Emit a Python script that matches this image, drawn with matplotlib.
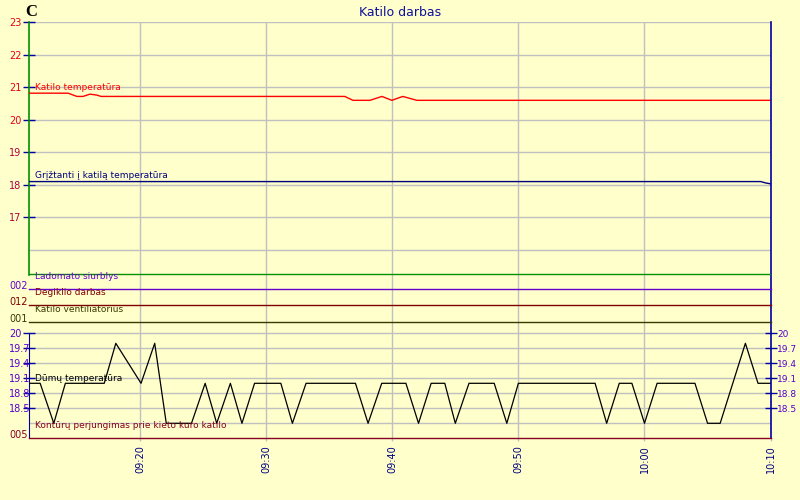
"""Katilo darbas: katilo ir dūmų temperatūros bei skaitmeniniai kanalai (800x500)."""
import matplotlib
matplotlib.use("Agg")
import matplotlib.pyplot as plt

plt.rcParams["font.family"] = ["DejaVu Sans"]

# ---- duomenys ----
KATILO_T = ["09:11:12", "09:14:18", "09:15:00", "09:15:29", "09:16:02", "09:16:35",
            "09:16:55", "09:36:14", "09:36:53", "09:38:14", "09:39:11", "09:39:58",
            "09:40:50", "09:41:57", "10:10:00"]
KATILO_V = [20.82, 20.82, 20.72, 20.72, 20.79, 20.76, 20.72, 20.72, 20.6, 20.6,
            20.72, 20.6, 20.72, 20.6, 20.6]

GRIZT_T = ["09:11:12", "10:09:13", "10:09:35", "10:10:00"]
GRIZT_V = [18.1, 18.1, 18.06, 18.03]

DUMU_T = ["09:11:12", "09:12:05", "09:13:10", "09:14:05", "09:17:10", "09:18:05",
          "09:20:05", "09:21:10", "09:22:05", "09:24:05", "09:25:10", "09:26:05",
          "09:27:10", "09:28:05", "09:29:05", "09:31:10", "09:32:05", "09:33:10",
          "09:37:05", "09:38:05", "09:39:10", "09:41:05", "09:42:05", "09:43:05",
          "09:44:10", "09:45:00", "09:46:05", "09:48:05", "09:49:05", "09:50:00",
          "09:56:05", "09:57:00", "09:58:00", "09:59:00", "10:00:00", "10:01:00",
          "10:04:00", "10:05:00", "10:06:00", "10:08:00", "10:09:00", "10:10:00"]
DUMU_V = [19.0, 19.0, 18.2, 19.0, 19.0, 19.8, 19.0, 19.8, 18.2, 18.2, 19.0, 18.2,
          19.0, 18.2, 19.0, 19.0, 18.2, 19.0, 19.0, 18.2, 19.0, 19.0, 18.2, 19.0,
          19.0, 18.2, 19.0, 19.0, 18.2, 19.0, 19.0, 18.2, 19.0, 19.0, 18.2, 19.0,
          19.0, 18.2, 18.2, 19.8, 19.0, 19.0]

# skaitmeniniai kanalai (visą laiką išjungti)
DIG_NAMES = ["Ladomato siurblys", "Degiklio darbas", "Katilo ventiliatorius",
             "Kontūrų perjungimas prie kieto kuro katilo"]
DIG_CODES = ["002", "012", "001", "005"]
DIG_T = ["09:11:12", "10:10:00"]
DIG_STATES = [[0, 0], [0, 0], [0, 0], [0, 0]]

TIME_TICKS = ["09:20", "09:30", "09:40", "09:50", "10:00", "10:10"]
TOP_TICKS = [17, 18, 19, 20, 21, 22, 23]
DUMU_TICKS = [18.5, 18.8, 19.1, 19.4, 19.7, 20]
DUMU_LABELS = ["18.5", "18.8", "19.1", "19.4", "19.7", "20"]

# ---- stilius / išdėstymas ----
BG = "#FFFFCC"
GRID = "#C0C0C0"
NAVY = "#000080"
TICK_C = "#0000A0"
GREEN = "#009000"
PURPLE = "#6600CC"
DUMU_LBL = "#5500CC"
DIG_COLORS = [PURPLE, "#800000", "#3A3A00", "#880022"]
DIG_LEVELS = [9, 8, 7, 0]
DIG_ON = 0.5
RECT = [29 / 800, 62 / 500, 742 / 800, 416 / 500]
DUMU_LIM = (17.906, 26.226)


def mins(t):
    parts = [int(p) for p in t.split(":")]
    while len(parts) < 3:
        parts.append(0)
    h, m, s = parts
    return (h - 9) * 60 + m + s / 60


def left_labels(ax):
    for lbl in ax.get_yticklabels():
        lbl.set_horizontalalignment("left")


fig = plt.figure(figsize=(8, 5), dpi=100)
fig.patch.set_facecolor(BG)

# ---- viršutinė ašis: katilo temperatūros ----
ax = fig.add_axes(RECT)
ax.set_facecolor(BG)
ax.set_xlim(mins("09:11:12"), mins("10:10:00") + 0.03)
ax.set_ylim(10.21, 23.01)

kt = [mins(t) for t in KATILO_T]
gt = [mins(t) for t in GRIZT_T]
ax.plot(kt, KATILO_V, color="#FF0000", lw=1.0, zorder=3)
ax.plot(gt, GRIZT_V, color=NAVY, lw=1.0, zorder=3)
ax.annotate("Katilo temperatūra", (kt[0], KATILO_V[0]), xytext=(6, 1),
            textcoords="offset pixels", color="#FF0000", fontsize=6.5, va="bottom")
ax.annotate("Grįžtanti į katilą temperatūra", (gt[0], GRIZT_V[0]), xytext=(6, 1.5),
            textcoords="offset pixels", color=NAVY, fontsize=6.5, va="bottom")

ax.set_yticks(TOP_TICKS)
ax.set_yticklabels([str(v) for v in TOP_TICKS])
for lbl, v in zip(ax.get_yticklabels(), TOP_TICKS):
    lbl.set_color("#E8001C" if v >= 20 else "#B0003C")
ax.tick_params(axis="y", direction="inout", length=8, width=1, color=TICK_C,
               labelsize=7, pad=10.4)
left_labels(ax)

ax.set_xticks([mins(t) for t in TIME_TICKS])
ax.set_xticklabels(TIME_TICKS, rotation=90, color=NAVY, fontsize=7)
ax.tick_params(axis="x", length=2, width=1, color=GRID, pad=3)

ax.grid(True, color=GRID, lw=1, zorder=0)
ax.axhline(16, color=GRID, lw=1, zorder=0)
ax.set_axisbelow(True)

for s in ["top", "right", "bottom"]:
    ax.spines[s].set_visible(False)
ax.spines["left"].set_color(GREEN)
ax.spines["left"].set_linewidth(1.2)
ax.spines["left"].set_bounds(15.23, 23.01)

# ---- dūmų temperatūra ----
ax2 = fig.add_axes(RECT, sharex=ax)
ax2.patch.set_visible(False)
ax2.set_ylim(*DUMU_LIM)
ax2.plot([mins(t) for t in DUMU_T], DUMU_V, color="black", lw=0.9, zorder=3)
ax2.annotate("Dūmų temperatūra", (mins(DUMU_T[0]), DUMU_V[0]), xytext=(6, 0),
             textcoords="offset pixels", color="black", fontsize=6.5, va="bottom")
ax2.set_yticks(DUMU_TICKS)
ax2.set_yticklabels(DUMU_LABELS)
ax2.tick_params(axis="y", left=True, right=False, labelleft=True, labelright=False,
                direction="inout", length=8, width=1, color=TICK_C,
                labelcolor=DUMU_LBL, labelsize=7, pad=10.4)
left_labels(ax2)
ax2.tick_params(axis="x", bottom=False, labelbottom=False)
ax2.grid(True, axis="y", color=GRID, lw=1, zorder=0)
ax2.axhline(18.2, color=GRID, lw=1, zorder=0)
for s in ["top", "bottom", "right"]:
    ax2.spines[s].set_visible(False)
ax2.spines["left"].set_color(TICK_C)
ax2.spines["left"].set_bounds(DUMU_LIM[0], 20)

# dešinė dūmų skalė
ax4 = ax2.twinx()
ax4.set_ylim(*DUMU_LIM)
ax4.set_yticks(DUMU_TICKS)
ax4.set_yticklabels(DUMU_LABELS)
ax4.tick_params(axis="y", direction="inout", length=8, width=1, color=TICK_C,
                labelcolor=DUMU_LBL, labelsize=6.5, pad=0.3)
for s in ["top", "bottom", "left"]:
    ax4.spines[s].set_visible(False)
ax4.spines["right"].set_color(TICK_C)
ax4.spines["right"].set_linewidth(1.2)

# ---- skaitmeniniai kanalai ----
ax3 = fig.add_axes(RECT, sharex=ax)
ax3.patch.set_visible(False)
ax3.set_ylim(0, 25.06)
dt = [mins(t) for t in DIG_T]
for name, states, lvl, col in zip(DIG_NAMES, DIG_STATES, DIG_LEVELS, DIG_COLORS):
    ys = [lvl + s * DIG_ON for s in states]
    ax3.step(dt, ys, where="post", color=col, lw=1.0, clip_on=False, zorder=3)
    ax3.annotate(name, (dt[0], lvl), xytext=(6, 8), textcoords="offset pixels",
                 color=col, fontsize=6.5, va="bottom")
ax3.axhline(9.85, color=GREEN, lw=1.0)
ax3.set_yticks(DIG_LEVELS)
ax3.set_yticklabels(DIG_CODES)
for lbl, col in zip(ax3.get_yticklabels(), DIG_COLORS):
    lbl.set_color(col)
    lbl.set_verticalalignment("baseline")
ax3.tick_params(axis="y", length=0, labelsize=7, pad=14.4)
left_labels(ax3)
ax3.tick_params(axis="x", bottom=False, labelbottom=False)
for s in ax3.spines.values():
    s.set_visible(False)

fig.text(0.5, 1 - 12 / 500, "Katilo darbas", color="#1010A0", fontsize=9,
         ha="center", va="center")
fig.text(25 / 800, 1 - 12.5 / 500, "C", family="Liberation Serif",
         fontweight="bold", fontsize=12, va="center", ha="left")

fig.savefig("out.png", dpi=100, facecolor=fig.get_facecolor())
